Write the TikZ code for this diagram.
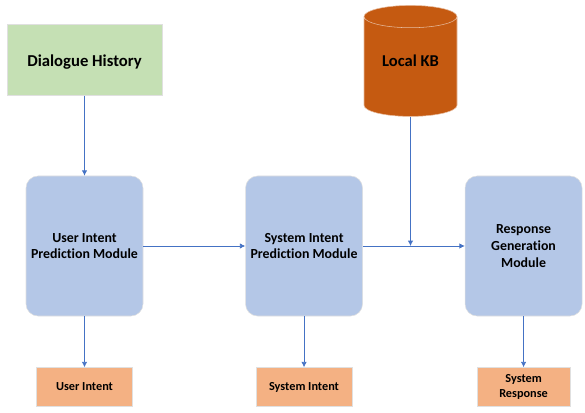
\documentclass[tikz,border=0pt]{standalone}
\usepackage{fontspec}
\setmainfont[Ligatures=NoCommon]{Carlito}
\usetikzlibrary{arrows.meta, positioning, shapes.geometric}
\definecolor{modblue}{RGB}{180,199,231}
\definecolor{histgreen}{RGB}{197,224,180}
\definecolor{outorange}{RGB}{244,177,131}
\definecolor{kbrust}{RGB}{197,90,17}
\definecolor{arrblue}{RGB}{68,114,196}

\begin{document}
\begin{tikzpicture}[
  x=0.75pt, y=-0.75pt,
  font=\bfseries,
  module/.style={rectangle, rounded corners=9pt, draw=white!88!black, line width=0.4pt,
    fill=modblue, minimum width=87.75pt, minimum height=105pt, align=center, inner sep=2pt,
    font=\fontsize{10.4}{12.5}\selectfont\bfseries},
  output/.style={rectangle, draw=white!88!black, line width=0.4pt, fill=outorange,
    minimum width=72pt, minimum height=29.25pt, align=center, inner sep=1pt,
    font=\fontsize{9.2}{11}\selectfont\bfseries},
  history/.style={rectangle, draw=white!88!black, line width=0.4pt, fill=histgreen,
    minimum width=116.25pt, minimum height=53.25pt, text height=12pt, text depth=2.5pt,
    font=\fontsize{12.5}{14}\selectfont\bfseries},
  store/.style={cylinder, shape border rotate=90, aspect=0.34, draw=kbrust!40!white,
    line width=0.4pt, fill=kbrust, minimum width=69.75pt, minimum height=83.25pt,
    text depth=13pt, font=\fontsize{12.4}{14}\selectfont\bfseries},
  arr/.style={-{Latex[length=4pt, width=4pt]}, draw=arrblue, line width=0.55pt}
]
\useasboundingbox (0,0) rectangle (585,413);
\node[module] (usr) at (84.5,246) {User Intent\\Prediction Module};
\node[module, right=76.5pt of usr] (sys) {System Intent\\Prediction Module};
\node[module, right=76.5pt of sys] (resp) {Response\\Generation\\Module};
\node[history, above=60pt of usr] (hist) {Dialogue History};
\node[store] (kb) at (410.5,69) {Local KB};
\node[output, below=38.25pt of usr] (usrout) {User Intent};
\node[output, below=38.25pt of sys] (sysout) {System Intent};
\node[output, below=38.25pt of resp, minimum width=69.75pt] (respout) {System\\Response};
\coordinate (join) at (kb.south |- sys.east);
\foreach \x/\y in {hist/usr,usr/sys,sys/resp,usr/usrout,sys/sysout,resp/respout}
  \draw[arr] (\x) -- (\y);
\draw[arr] (kb) -- (join);
\end{tikzpicture}
\end{document}
